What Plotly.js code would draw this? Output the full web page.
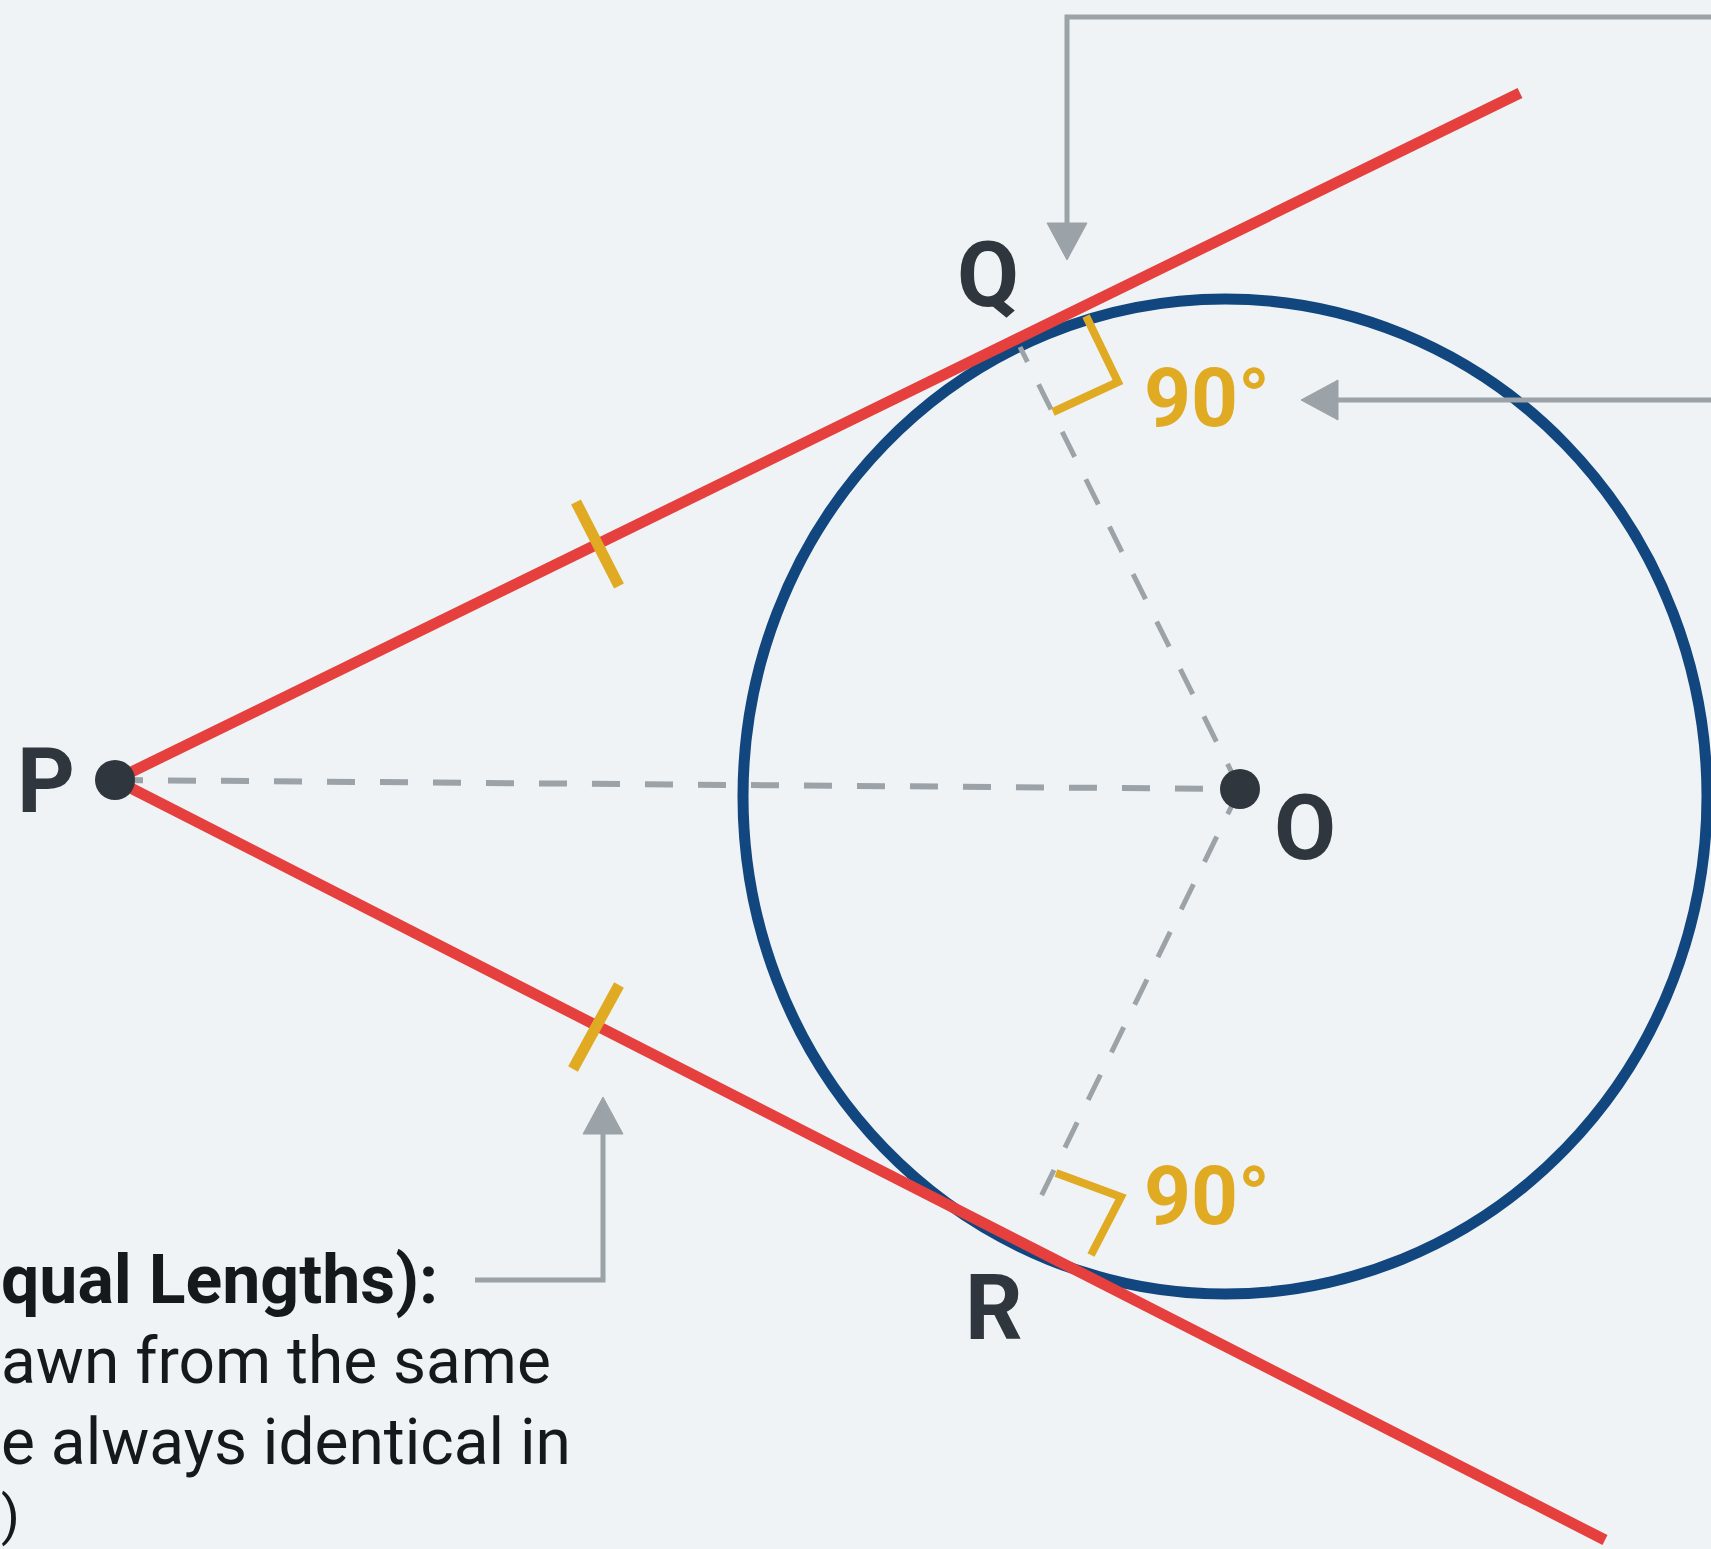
<!DOCTYPE html>
<html>
<head>
<meta charset="utf-8">
<script src="https://cdn.plot.ly/plotly-3.0.1.min.js"></script>
<style>
  html, body { margin: 0; padding: 0; background: #eff3f6; }
  #chart { width: 1711px; height: 1549px; }
</style>
</head>
<body>
<div id="chart"></div>
<script>
// ---- Data (pixel-space coordinates, y downward) ----
const pointNames = ['P', 'O'];
const pointX = [115, 1240];
const pointY = [780, 789];

// circle (slightly elliptical in the reference): bounding box
const circleX = [743, 1707];
const circleY = [299, 1294];

// tangent lines from P: far ends
const tangentEndX = [1520, 1605];
const tangentEndY = [93, 1540];

// dashed radius lines: O -> near Q, O -> near R
const radiusEndX = [1020, 1031];
const radiusEndY = [347, 1217];

// equal-length tick marks on the tangents
const tickX = [[576, 619], [619, 573]];
const tickY = [[502, 586], [985, 1069]];

// right-angle markers
const rightAngleX = [[1086, 1118, 1053], [1056, 1121, 1091]];
const rightAngleY = [[316, 382, 412], [1173, 1197, 1255]];

// point labels
const labelText = ['P', 'Q', 'O', 'R'];
const labelX = [46, 988, 1305, 994];
const labelY = [781, 275, 828, 1308];

// angle labels
const angleText = ['90°', '90°'];
const angleX = [1207, 1207];
const angleY = [398, 1196];

// callout connectors (polylines) and their arrow tips
const calloutX = [[1711, 1067, 1067], [1711, 1330], [475, 603, 603]];
const calloutY = [[17, 17, 230], [400, 400], [1280, 1280, 1130]];
const arrowTipX = [1067, 1301, 603];
const arrowTipY = [260, 400, 1097];
const arrowDir = ['down', 'left', 'up'];

// partially visible caption text (left edge of the picture)
const captionLines = ['qual Lengths):', 'awn from the same', 'e always identical in', ')'];
const captionBold = [true, false, false, false];
const captionLeftX = [0, 0, 0, 0];
const captionY = [1280, 1361, 1442, 1515];

// ---- Styles ----
const BG = '#eff3f6';
const RED = '#e5403e';
const NAVY = '#12467e';
const GOLD = '#e0aa22';
const GREY = '#9ba2a8';
const DARK = '#2f363d';
const FONT = 'Roboto, "Open Sans", Arial, sans-serif';
const captionSize = [68, 64, 64, 54];

const traces = [];

// dashed lines
traces.push({
  x: [pointX[0], pointX[1]], y: [pointY[0], pointY[1]],
  mode: 'lines', line: {color: GREY, width: 6, dash: '28px,25px'}, hoverinfo: 'skip'
});
for (let i = 0; i < radiusEndX.length; i++) {
  traces.push({
    x: [pointX[1], radiusEndX[i]], y: [pointY[1], radiusEndY[i]],
    mode: 'lines', line: {color: GREY, width: 5, dash: '28px,25px'}, hoverinfo: 'skip'
  });
}

// callout connectors
for (let i = 0; i < calloutX.length; i++) {
  traces.push({
    x: calloutX[i], y: calloutY[i], mode: 'lines',
    line: {color: GREY, width: 5}, hoverinfo: 'skip'
  });
  // arrowhead triangle built from tip + direction
  const tx = arrowTipX[i], ty = arrowTipY[i];
  const L = 37, H = 20;
  let xs, ys;
  if (arrowDir[i] === 'down') { xs = [tx, tx - H, tx + H, tx]; ys = [ty, ty - L, ty - L, ty]; }
  else if (arrowDir[i] === 'up') { xs = [tx, tx - H, tx + H, tx]; ys = [ty, ty + L, ty + L, ty]; }
  else { xs = [tx, tx + L, tx + L, tx]; ys = [ty, ty - H, ty + H, ty]; }
  traces.push({
    x: xs, y: ys, mode: 'lines', fill: 'toself', fillcolor: GREY,
    line: {color: GREY, width: 1}, hoverinfo: 'skip'
  });
}

// tangent lines
for (let i = 0; i < tangentEndX.length; i++) {
  traces.push({
    x: [pointX[0], tangentEndX[i]], y: [pointY[0], tangentEndY[i]],
    mode: 'lines', line: {color: RED, width: 11}, hoverinfo: 'skip'
  });
}

// tick marks
for (let i = 0; i < tickX.length; i++) {
  traces.push({
    x: tickX[i], y: tickY[i], mode: 'lines',
    line: {color: GOLD, width: 11}, hoverinfo: 'skip'
  });
}

// right angle markers
for (let i = 0; i < rightAngleX.length; i++) {
  traces.push({
    x: rightAngleX[i], y: rightAngleY[i], mode: 'lines',
    line: {color: GOLD, width: 8}, hoverinfo: 'skip'
  });
}

// points
traces.push({
  x: pointX, y: pointY, mode: 'markers', text: pointNames,
  marker: {color: DARK, size: 40, line: {width: 0}}, hoverinfo: 'skip'
});

const annotations = [];
for (let i = 0; i < labelText.length; i++) {
  annotations.push({
    x: labelX[i], y: labelY[i], xref: 'x', yref: 'y', text: '<b>' + labelText[i] + '</b>',
    showarrow: false, xanchor: 'center', yanchor: 'middle',
    font: {family: FONT, size: 90, color: DARK}
  });
}
for (let i = 0; i < angleText.length; i++) {
  annotations.push({
    x: angleX[i], y: angleY[i], xref: 'x', yref: 'y', text: '<b>' + angleText[i] + '</b>',
    showarrow: false, xanchor: 'center', yanchor: 'middle',
    font: {family: FONT, size: 82, color: GOLD}
  });
}
for (let i = 0; i < captionLines.length; i++) {
  annotations.push({
    x: captionLeftX[i], y: captionY[i], xref: 'x', yref: 'y',
    text: captionBold[i] ? '<b>' + captionLines[i] + '</b>' : captionLines[i],
    showarrow: false, xanchor: 'left', yanchor: 'middle', borderpad: 0,
    font: {family: FONT, size: captionSize[i], color: '#16191c'}
  });
}

const layout = {
  width: 1711, height: 1549,
  margin: {l: 0, r: 0, t: 0, b: 0, pad: 0},
  paper_bgcolor: BG, plot_bgcolor: BG,
  showlegend: false,
  xaxis: {range: [0, 1711], visible: false, fixedrange: true},
  yaxis: {range: [1549, 0], visible: false, fixedrange: true},
  shapes: [{
    type: 'circle', xref: 'x', yref: 'y', layer: 'below',
    x0: circleX[0], x1: circleX[1], y0: circleY[0], y1: circleY[1],
    line: {color: NAVY, width: 11}
  }],
  annotations: annotations
};

Plotly.newPlot('chart', traces, layout, {staticPlot: true, displayModeBar: false});
</script>
</body>
</html>
